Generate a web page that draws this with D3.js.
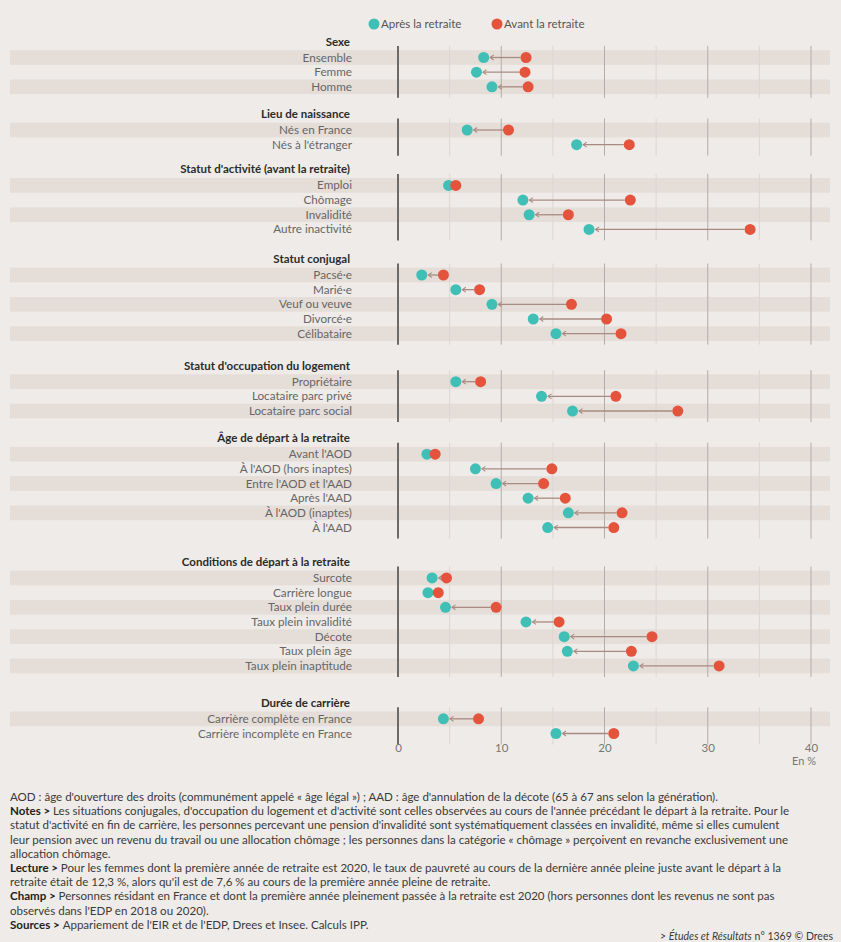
<!DOCTYPE html>
<html>
<head>
<meta charset="utf-8">
<script src="https://cdn.jsdelivr.net/npm/d3@7"></script>
<style>
  body { margin: 0; background: #efebe8; }
  svg { display: block; }
  text { font-family: Lato, "DejaVu Sans Condensed", sans-serif; }
</style>
</head>
<body>
<div id="chart"></div>
<script>
//---------------------------DATA--------------------------------//
const groups = ["Sexe", "Lieu de naissance", "Statut d'activité (avant la retraite)", "Statut conjugal",
    "Statut d'occupation du logement", "Âge de départ à la retraite", "Conditions de départ à la retraite",
    "Durée de carrière"];

const categories = [
    "Ensemble", "Femme", "Homme",
    "Nés en France", "Nés à l'étranger",
    "Emploi", "Chômage", "Invalidité", "Autre inactivité",
    "Pacsé·e", "Marié·e", "Veuf ou veuve", "Divorcé·e", "Célibataire",
    "Propriétaire", "Locataire parc privé", "Locataire parc social",
    "Avant l'AOD", "À l'AOD (hors inaptes)", "Entre l'AOD et l'AAD", "Après l'AAD", "À l'AOD (inaptes)", "À l'AAD",
    "Surcote", "Carrière longue", "Taux plein durée", "Taux plein invalidité", "Décote", "Taux plein âge", "Taux plein inaptitude",
    "Carrière complète en France", "Carrière incomplète en France"
];

const groupOf = [0, 0, 0, 1, 1, 2, 2, 2, 2, 3, 3, 3, 3, 3, 4, 4, 4, 5, 5, 5, 5, 5, 5, 6, 6, 6, 6, 6, 6, 6, 7, 7];

const avant = [12.4, 12.3, 12.6, 10.7, 22.4, 5.6, 22.5, 16.5, 34.1, 4.4, 7.9, 16.8, 20.2, 21.6,
    8.0, 21.1, 27.1, 3.6, 14.9, 14.1, 16.2, 21.7, 20.9, 4.7, 3.9, 9.5, 15.6, 24.6, 22.6, 31.1, 7.8, 20.9];

const apres = [8.3, 7.6, 9.1, 6.7, 17.3, 4.9, 12.1, 12.7, 18.5, 2.3, 5.6, 9.1, 13.1, 15.3,
    5.6, 13.9, 16.9, 2.8, 7.5, 9.5, 12.6, 16.5, 14.5, 3.3, 2.9, 4.6, 12.4, 16.1, 16.4, 22.8, 4.4, 15.3];

const xTicks = [0, 10, 20, 30, 40];
const gridTicks = [5, 10, 15, 20, 25, 30, 35, 40];

const notes = [
    [["", "AOD : âge d'ouverture des droits (communément appelé « âge légal ») ; AAD : âge d'annulation de la décote (65 à 67 ans selon la génération)."]],
    [["Notes > ", "Les situations conjugales, d'occupation du logement et d'activité sont celles observées au cours de l'année précédant le départ à la retraite. Pour le"]],
    [["", "statut d'activité en fin de carrière, les personnes percevant une pension d'invalidité sont systématiquement classées en invalidité, même si elles cumulent"]],
    [["", "leur pension avec un revenu du travail ou une allocation chômage ; les personnes dans la catégorie « chômage » perçoivent en revanche exclusivement une"]],
    [["", "allocation chômage."]],
    [["Lecture > ", "Pour les femmes dont la première année de retraite est 2020, le taux de pauvreté au cours de la dernière année pleine juste avant le départ à la"]],
    [["", "retraite était de 12,3 %, alors qu'il est de 7,6 % au cours de la première année pleine de retraite."]],
    [["Champ > ", "Personnes résidant en France et dont la première année pleinement passée à la retraite est 2020 (hors personnes dont les revenus ne sont pas"]],
    [["", "observés dans l'EDP en 2018 ou 2020)."]],
    [["Sources > ", "Appariement de l'EIR et de l'EDP, Drees et Insee. Calculs IPP."]]
];

//-------------------------PREPARATION---------------------------//
const width = 841;
const height = 942;
const teal = "#3fbfb5";
const red = "#e4533b";
const linkColor = "#a88b80";
const bandColor = "#e5ddd8";
const r = 5.5;
const fs = 11.5;

const svg = d3.select("#chart").append("svg")
    .attr("width", width)
    .attr("height", height);

// slot positions: one unit per row, extra room between groups for the header
var slots = [];
var cursor = 0;
groups.forEach(function(g, gi) {
    let idx = d3.range(categories.length).filter(function(i) { return groupOf[i] === gi; });
    idx.forEach(function(i, k) { slots[i] = cursor + k; });
    cursor += idx.length + (21 + 2.4 * idx.length) / 14.5;
});
const lastSlot = d3.max(slots);

const xScale = d3.scaleLinear().domain([0, 40]).range([398, 811]);
const yScale = d3.scaleLinear().domain([0, lastSlot]).range([57.5, 733.5]);
const step = yScale(1) - yScale(0);

const rows = categories.map(function(c, i) {
    return {label: c, group: groupOf[i], avant: avant[i], apres: apres[i], y: yScale(slots[i])};
});
rows.forEach(function(d, i) {
    d.k = rows.filter(function(e, j) { return j < i && e.group === d.group; }).length;
});

//---------------------------LEGEND------------------------------//
const legend = svg.append("g").attr("transform", "translate(0,24)");
[["Après la retraite", teal, 374], ["Avant la retraite", red, 497]].forEach(function(l) {
    legend.append("circle").attr("cx", l[2]).attr("cy", 0).attr("r", r).attr("fill", l[1]);
    legend.append("text").attr("x", l[2] + 7).attr("y", 4)
        .attr("font-size", fs).attr("fill", "#555").text(l[0]);
});

//---------------------------BANDS-------------------------------//
svg.append("g").selectAll("rect")
    .data(rows.filter(function(d) { return d.k % 2 === 0; }))
    .join("rect")
    .attr("x", 10)
    .attr("width", 820)
    .attr("y", function(d) { return d.y - step / 2; })
    .attr("height", step)
    .attr("fill", bandColor);

//-------------------------GROUPS / GRID-------------------------//
groups.forEach(function(g, gi) {
    let gr = rows.filter(function(d) { return d.group === gi; });
    let y0 = d3.min(gr, function(d) { return d.y; }) - 11.5;
    let y1 = d3.max(gr, function(d) { return d.y; }) + 11;

    svg.append("text")
        .attr("x", 350)
        .attr("y", y0 - 0.5)
        .attr("text-anchor", "end")
        .attr("font-size", fs)
        .attr("font-weight", "bold")
        .attr("fill", "#2b2b2b")
        .text(g);

    svg.append("g").selectAll("line")
        .data(gridTicks)
        .join("line")
        .attr("x1", function(d) { return xScale(d); })
        .attr("x2", function(d) { return xScale(d); })
        .attr("y1", y0)
        .attr("y2", y1)
        .attr("stroke", function(d) { return d % 10 === 0 ? "#b3adaa" : "#dcd6d3"; })
        .attr("stroke-width", 1);

    svg.append("line")
        .attr("x1", xScale(0)).attr("x2", xScale(0))
        .attr("y1", y0).attr("y2", y1)
        .attr("stroke", "#6e6a68")
        .attr("stroke-width", 2);
});

//---------------------------LABELS------------------------------//
svg.append("g").selectAll("text")
    .data(rows)
    .join("text")
    .attr("x", 352)
    .attr("y", function(d) { return d.y + 4; })
    .attr("text-anchor", "end")
    .attr("font-size", 11.7)
    .attr("fill", "#666")
    .text(function(d) { return d.label; });

//---------------------------MARKS-------------------------------//
svg.append("defs").append("marker")
    .attr("id", "chev")
    .attr("viewBox", "-1 -4 8 8")
    .attr("refX", 0)
    .attr("refY", 0)
    .attr("markerWidth", 7)
    .attr("markerHeight", 7)
    .attr("markerUnits", "userSpaceOnUse")
    .attr("orient", "auto")
    .append("path")
    .attr("d", "M4,-2.8L0,0L4,2.8")
    .attr("fill", "none")
    .attr("stroke", linkColor)
    .attr("stroke-width", 1.2);

svg.append("g").selectAll("line")
    .data(rows.filter(function(d) { return xScale(d.avant) - xScale(d.apres) > 2 * r + 2; }))
    .join("line")
    .attr("x1", function(d) { return xScale(d.apres) + r + 1; })
    .attr("x2", function(d) { return xScale(d.avant) - r; })
    .attr("y1", function(d) { return d.y; })
    .attr("y2", function(d) { return d.y; })
    .attr("stroke", linkColor)
    .attr("stroke-width", 1.3)
    .attr("marker-start", "url(#chev)");

svg.append("g").selectAll("circle")
    .data(rows)
    .join("circle")
    .attr("cx", function(d) { return xScale(d.apres); })
    .attr("cy", function(d) { return d.y; })
    .attr("r", r)
    .attr("fill", teal);

svg.append("g").selectAll("circle")
    .data(rows)
    .join("circle")
    .attr("cx", function(d) { return xScale(d.avant); })
    .attr("cy", function(d) { return d.y; })
    .attr("r", r)
    .attr("fill", red);

//----------------------------AXIS-------------------------------//
const xaxis = d3.axisBottom(xScale).tickValues(xTicks).tickSize(0).tickPadding(4);
const ax = svg.append("g")
    .attr("transform", "translate(0," + (yScale(lastSlot) + 6) + ")")
    .call(xaxis);
ax.select(".domain").remove();
ax.selectAll("text")
    .attr("font-size", fs)
    .attr("fill", "#777")
    .style("font-family", "Lato, sans-serif");

svg.append("text")
    .attr("x", 816)
    .attr("y", 765)
    .attr("text-anchor", "end")
    .attr("font-size", 11)
    .attr("fill", "#777")
    .text("En %");

//---------------------------NOTES-------------------------------//
const noteBox = svg.append("g");
notes.forEach(function(line, i) {
    let t = noteBox.append("text")
        .attr("x", 10)
        .attr("y", 801 + i * 14.2)
        .attr("font-size", 11.55)
        .attr("fill", "#3a3a3a");
    line.forEach(function(part) {
        if (part[0]) t.append("tspan").attr("font-weight", "bold").attr("fill", "#222").text(part[0]);
        t.append("tspan").text(part[1]);
    });
});

const src = svg.append("text")
    .attr("x", 833)
    .attr("y", 940)
    .attr("text-anchor", "end")
    .attr("font-size", 10.5)
    .attr("fill", "#3a3a3a");
src.append("tspan").text("> ");
src.append("tspan").attr("font-style", "italic").text("Études et Résultats");
src.append("tspan").text(" n° 1369 © Drees");
</script>
</body>
</html>
